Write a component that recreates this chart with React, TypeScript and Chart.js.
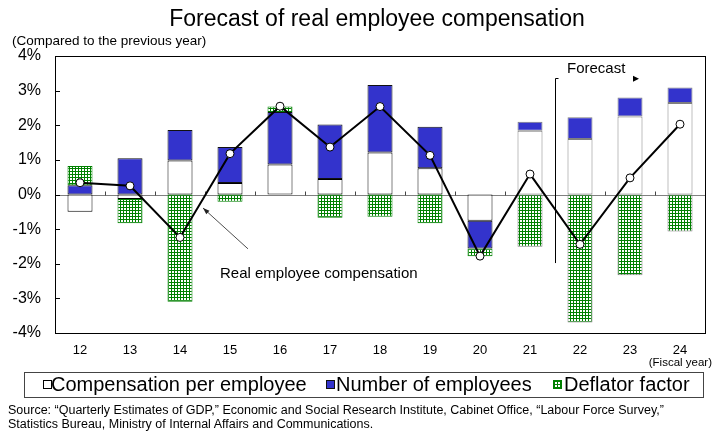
import React, { useEffect, useRef } from "react";
import { Chart, registerables } from "chart.js";

Chart.register(...registerables);

const FONT = "'Liberation Sans', Arial, Helvetica, sans-serif";

// ---- data ----
const fiscalYears = ["12", "13", "14", "15", "16", "17", "18", "19", "20", "21", "22", "23", "24"];
const compensationPerEmployee = [-0.5, -0.13, 0.98, 0.33, 0.87, 0.45, 1.21, 0.76, -0.76, 1.84, 1.6, 2.25, 2.64];
const numberOfEmployees = [0.27, 1.05, 0.88, 1.04, 1.51, 1.57, 1.95, 1.2, -0.8, 0.26, 0.63, 0.55, 0.45];
const deflatorFactor = [0.55, -0.7, -3.1, -0.21, 0.16, -0.67, -0.64, -0.83, -0.22, -1.51, -3.7, -2.33, -1.07];
const realEmployeeCompensation = [0.34, 0.25, -1.24, 1.18, 2.55, 1.37, 2.54, 1.13, -1.78, 0.59, -1.44, 0.48, 2.03];
const yTickValues = [-4, -3, -2, -1, 0, 1, 2, 3, 4];
const forecastFirstIndex = 9; // bars from FY21 on drawn with grey outline

// ---- texts ----
const titleText = "Forecast of real employee compensation";
const unitText = "(Compared to the previous year)";
const xUnitText = "(Fiscal year)";
const forecastText = "Forecast";
const lineNoteText = "Real employee compensation";
const legendLabels = ["Compensation per employee", "Number of employees", "Deflator factor"];
const sourceLines = [
  "Source: \u201cQuarterly Estimates of GDP,\u201d Economic and Social Research Institute, Cabinet Office, \u201cLabour Force Survey,\u201d",
  "Statistics Bureau, Ministry of Internal Affairs and Communications.",
];

// annotation anchors in data units (category index, percent)
const forecastLine = { idx: 9.5, top: 3.37, bottom: -1.98 };
const forecastLabel = { idx: 9.74, val: 3.51 };
const forecastArrow = { idx: 11.12, val: 3.34 };
const noteArrow = { fromIdx: 3.36, fromVal: -1.57, toIdx: 2.46, toVal: -0.39 };
const noteLabel = { idx: 2.8, val: -2.41 };

const BLUE = "#3333CC";
const GREEN = "#008000";

function makePattern(ctx: CanvasRenderingContext2D) {
  const pc = document.createElement("canvas");
  pc.width = 3;
  pc.height = 3;
  const p = pc.getContext("2d")!;
  p.fillStyle = "#ffffff";
  p.fillRect(0, 0, 3, 3);
  p.fillStyle = GREEN;
  p.fillRect(0, 0, 3, 1);
  p.fillRect(0, 0, 1, 3);
  return ctx.createPattern(pc, "repeat")!;
}

const decor = {
  id: "decor",
  beforeDatasetsDraw(chart: any) {
    const { ctx, chartArea: a, scales } = chart;
    const x = scales.x;
    const y = scales.y;
    ctx.save();
    const y0 = Math.round(y.getPixelForValue(0)) + 0.5;
    ctx.lineWidth = 1;
    ctx.strokeStyle = "#808080";
    ctx.beginPath();
    ctx.moveTo(a.left, y0);
    ctx.lineTo(a.right, y0);
    ctx.stroke();
    ctx.strokeStyle = "#444";
    for (let i = 0; i < fiscalYears.length - 1; i++) {
      const px = Math.round(x.getPixelForValue(i + 0.5)) + 0.5;
      ctx.beginPath();
      ctx.moveTo(px, y0);
      ctx.lineTo(px, y0 - 4);
      ctx.stroke();
    }
    ctx.restore();
  },
  afterDraw(chart: any) {
    const { ctx, chartArea: a, scales } = chart;
    const x = scales.x;
    const y = scales.y;
    ctx.save();
    // frame
    ctx.strokeStyle = "#000";
    ctx.lineWidth = 1;
    ctx.strokeRect(Math.round(a.left) + 0.5, Math.round(a.top) + 0.5, Math.round(a.right - a.left), Math.round(a.bottom - a.top));
    // inward y ticks
    for (const v of yTickValues) {
      const py = Math.round(y.getPixelForValue(v)) + 0.5;
      ctx.beginPath();
      ctx.moveTo(a.left, py);
      ctx.lineTo(a.left + 5, py);
      ctx.stroke();
    }
    // forecast divider
    const fx = Math.round(x.getPixelForValue(forecastLine.idx)) + 0.5;
    const fTop = Math.round(y.getPixelForValue(forecastLine.top)) + 0.5;
    const fBot = y.getPixelForValue(forecastLine.bottom);
    ctx.strokeStyle = "#000";
    ctx.beginPath();
    ctx.moveTo(fx + 3, fTop);
    ctx.lineTo(fx, fTop);
    ctx.lineTo(fx, fBot);
    ctx.stroke();
    ctx.fillStyle = "#000";
    ctx.font = `15px ${FONT}`;
    ctx.textBaseline = "alphabetic";
    ctx.textAlign = "left";
    ctx.fillText(forecastText, x.getPixelForValue(forecastLabel.idx), y.getPixelForValue(forecastLabel.val));
    const ax = x.getPixelForValue(forecastArrow.idx);
    const ay = y.getPixelForValue(forecastArrow.val);
    ctx.beginPath();
    ctx.moveTo(ax - 3, ay - 3);
    ctx.lineTo(ax + 3, ay);
    ctx.lineTo(ax - 3, ay + 3);
    ctx.closePath();
    ctx.fill();
    // note arrow
    const sx = x.getPixelForValue(noteArrow.fromIdx);
    const sy = y.getPixelForValue(noteArrow.fromVal);
    const tx = x.getPixelForValue(noteArrow.toIdx);
    const ty = y.getPixelForValue(noteArrow.toVal);
    ctx.strokeStyle = "#222";
    ctx.lineWidth = 0.8;
    ctx.beginPath();
    ctx.moveTo(sx, sy);
    ctx.lineTo(tx, ty);
    ctx.stroke();
    const ang = Math.atan2(ty - sy, tx - sx);
    const hl = 7;
    ctx.beginPath();
    ctx.moveTo(tx, ty);
    ctx.lineTo(tx - hl * Math.cos(ang - 0.35), ty - hl * Math.sin(ang - 0.35));
    ctx.lineTo(tx - hl * Math.cos(ang + 0.35), ty - hl * Math.sin(ang + 0.35));
    ctx.closePath();
    ctx.fillStyle = "#222";
    ctx.fill();
    ctx.fillStyle = "#000";
    ctx.font = `15px ${FONT}`;
    ctx.fillText(lineNoteText, x.getPixelForValue(noteLabel.idx), y.getPixelForValue(noteLabel.val));
    ctx.restore();
  },
};

export default function App() {
  const ref = useRef<HTMLCanvasElement>(null);

  useEffect(() => {
    const canvas = ref.current!;
    const ctx = canvas.getContext("2d")!;
    const pattern = makePattern(ctx);
    const outline = (base: string) => fiscalYears.map((_, i) => (i >= forecastFirstIndex ? "#7f7f7f" : base));
    const chart = new Chart(ctx, {
      type: "bar",
      data: {
        labels: fiscalYears,
        datasets: [
          {
            type: "line",
            label: "Real employee compensation",
            data: realEmployeeCompensation,
            stack: "line",
            borderColor: "#000",
            borderWidth: 2,
            pointRadius: 4,
            pointBackgroundColor: "#fff",
            pointBorderColor: "#000",
            pointBorderWidth: 1,
            tension: 0,
          } as any,
          {
            label: legendLabels[0],
            data: compensationPerEmployee,
            stack: "bars",
            backgroundColor: "#fff",
            borderColor: outline("#000"),
            borderWidth: 1,
            borderSkipped: false,
          },
          {
            label: legendLabels[1],
            data: numberOfEmployees,
            stack: "bars",
            backgroundColor: BLUE,
            borderColor: outline("#111"),
            borderWidth: 1,
            borderSkipped: false,
          },
          {
            label: legendLabels[2],
            data: deflatorFactor,
            stack: "bars",
            backgroundColor: pattern as any,
            borderColor: outline(GREEN),
            borderWidth: 1,
            borderSkipped: false,
          },
        ],
      },
      options: {
        responsive: false,
        animation: false,
        devicePixelRatio: 1,
        layout: { padding: { top: 56, right: 19, left: 0, bottom: 0 } },
        plugins: {
          legend: { display: false },
          tooltip: { enabled: false },
          title: { display: false },
        },
        datasets: {
          bar: { categoryPercentage: 1, barPercentage: 0.5 },
        },
        scales: {
          x: {
            stacked: true,
            offset: true,
            grid: { display: false, drawTicks: false },
            border: { display: false },
            ticks: { color: "#000", font: { family: FONT, size: 13 }, padding: 10, maxRotation: 0 },
            afterFit: (s: any) => {
              s.height = 100;
            },
          },
          y: {
            stacked: true,
            min: -4,
            max: 4,
            grid: { display: false, drawTicks: false },
            border: { display: false },
            ticks: {
              stepSize: 1,
              color: "#000",
              font: { family: FONT, size: 16 },
              padding: 14,
              callback: (v: any) => `${v}%`,
            },
            afterFit: (s: any) => {
              s.width = 55;
            },
          },
        },
      } as any,
      plugins: [decor],
    });
    return () => chart.destroy();
  }, []);

  const abs = (o: React.CSSProperties): React.CSSProperties => ({ position: "absolute", whiteSpace: "nowrap", ...o });
  const marker = (kind: number): React.CSSProperties => {
    const base: React.CSSProperties = { position: "absolute", top: 380, width: 7, height: 7, boxSizing: "content-box" };
    if (kind === 0) return { ...base, background: "#fff", border: "1px solid #000" };
    if (kind === 1) return { ...base, background: BLUE, border: "1px solid #111" };
    return {
      ...base,
      backgroundColor: "#fff",
      backgroundImage: `linear-gradient(${GREEN} 1px, transparent 1px), linear-gradient(90deg, ${GREEN} 1px, transparent 1px)`,
      backgroundSize: "3px 3px",
      border: `1px solid ${GREEN}`,
    };
  };
  const legendPos = [
    { m: 43, t: 51 },
    { m: 326, t: 336 },
    { m: 553, t: 564 },
  ];

  return (
    <div style={{ position: "absolute", left: 0, top: 0, width: 724, height: 433, background: "#fff", fontFamily: FONT, color: "#000", overflow: "hidden" }}>
      <canvas ref={ref} width={724} height={433} style={{ position: "absolute", left: 0, top: 0, width: 724, height: 433 }} />
      <div style={abs({ left: 377, top: 6.5, fontSize: 23, lineHeight: "23px", transform: "translateX(-50%)" })}>{titleText}</div>
      <div style={abs({ left: 12, top: 33.5, fontSize: 13.5, lineHeight: "13.5px" })}>{unitText}</div>
      <div style={abs({ right: 724 - 712, top: 356.5, fontSize: 11.5, lineHeight: "11.5px" })}>{xUnitText}</div>
      <div style={abs({ left: 24, top: 372, width: 680, height: 26, border: "1px solid #444", boxSizing: "border-box" })} />
      {legendLabels.map((lab, i) => (
        <React.Fragment key={lab}>
          <div style={{ ...marker(i), left: legendPos[i].m }} />
          <div style={abs({ left: legendPos[i].t, top: 374, fontSize: 20, lineHeight: "20px" })}>{lab}</div>
        </React.Fragment>
      ))}
      {sourceLines.map((s, i) => (
        <div key={i} style={abs({ left: 8, top: 404 + i * 13.5, fontSize: 12.5, lineHeight: "13.5px" })}>{s}</div>
      ))}
    </div>
  );
}
